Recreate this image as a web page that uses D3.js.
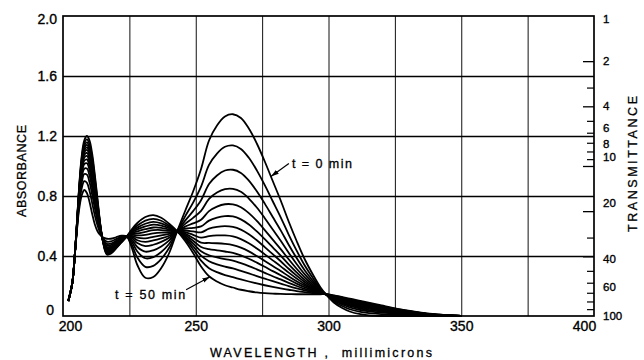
<!DOCTYPE html>
<html><head><meta charset="utf-8">
<script src="https://cdn.jsdelivr.net/npm/d3@7"></script>
<style>
html,body{margin:0;padding:0;background:#fff;}
svg{display:block;font-family:"Liberation Sans",Arial,sans-serif;}
text{fill:#000;}
</style></head><body>
<svg id="chart" width="644" height="360"></svg>
<script>
// ---------------- DATA ----------------
// wavelengths (millimicrons) at which the spectra were read
const wavelengths = [202,203.5,204.5,205.3,206,207,208,209,210,211,212,213,214,215,216.5,218,220,222,224,226,228,231,234,237,240,243,246,249,252,255,258,261,264,267,270,273,276,279,282,285,288,291,294,297,299,302,305,308,312,316,320,326,332,338,345,350];
// absorbance rows: one row per wavelength, one column per spectrum (t = 0 min ... t = 50 min)
const absorbanceRows = [
[.10,.10,.10,.10,.10,.10,.10,.10,.10,.10,.10,.10,.10,.10],
[.22,.22,.22,.22,.22,.22,.22,.22,.22,.22,.22,.22,.22,.22],
[.42,.42,.42,.42,.42,.42,.42,.42,.42,.42,.42,.42,.42,.42],
[.58,.591,.599,.606,.611,.615,.619,.622,.625,.628,.631,.633,.636,.64],
[.70,.725,.745,.76,.773,.783,.791,.799,.806,.812,.818,.825,.832,.84],
[.80,.847,.883,.912,.935,.953,.969,.983,.996,1.008,1.02,1.031,1.044,1.06],
[.84,.899,.946,.982,1.012,1.035,1.055,1.073,1.089,1.104,1.119,1.134,1.15,1.17],
[.82,.888,.942,.983,1.018,1.044,1.067,1.088,1.107,1.124,1.141,1.158,1.177,1.20],
[.76,.834,.891,.936,.973,1.002,1.027,1.049,1.07,1.088,1.106,1.125,1.145,1.17],
[.68,.752,.808,.852,.888,.916,.94,.962,.982,1.0,1.018,1.036,1.056,1.08],
[.61,.669,.716,.752,.782,.805,.825,.843,.859,.874,.889,.904,.92,.94],
[.565,.604,.634,.657,.677,.692,.705,.717,.727,.737,.747,.756,.767,.78],
[.54,.554,.566,.574,.582,.587,.592,.596,.60,.604,.608,.611,.615,.62],
[.525,.52,.517,.514,.512,.51,.509,.507,.506,.505,.504,.503,.501,.50],
[.515,.496,.481,.47,.46,.453,.447,.441,.436,.431,.426,.422,.416,.41],
[.515,.497,.483,.472,.463,.456,.45,.445,.44,.435,.431,.426,.421,.415],
[.525,.512,.501,.493,.486,.481,.476,.472,.468,.465,.462,.458,.455,.45],
[.535,.527,.521,.516,.512,.508,.506,.503,.501,.499,.497,.495,.493,.49],
[.53,.53,.53,.53,.53,.53,.53,.53,.53,.53,.53,.53,.53,.53],
[.45,.473,.492,.506,.518,.527,.534,.542,.548,.554,.56,.566,.572,.58],
[.34,.39,.43,.46,.486,.505,.522,.537,.551,.564,.577,.589,.603,.62],
[.255,.328,.385,.429,.466,.494,.518,.541,.561,.579,.597,.615,.636,.66],
[.26,.334,.392,.438,.475,.504,.528,.551,.572,.59,.609,.628,.648,.673],
[.32,.38,.427,.464,.494,.518,.538,.556,.573,.588,.603,.618,.635,.655],
[.42,.455,.482,.504,.521,.535,.547,.557,.567,.576,.585,.594,.603,.615],
[.565,.565,.565,.565,.565,.565,.565,.565,.565,.565,.565,.565,.565,.565],
[.70,.664,.636,.614,.596,.582,.57,.559,.549,.54,.531,.522,.512,.50],
[.83,.756,.699,.654,.617,.588,.564,.541,.52,.502,.484,.465,.445,.42],
[.98,.863,.772,.701,.642,.597,.558,.522,.489,.46,.431,.402,.369,.33],
[1.17,1.007,.88,.781,.699,.636,.582,.532,.487,.446,.405,.365,.319,.265],
[1.27,1.083,.937,.823,.729,.656,.594,.537,.485,.438,.391,.344,.292,.23],
[1.33,1.128,.97,.846,.745,.666,.599,.537,.481,.43,.379,.329,.273,.205],
[1.345,1.137,.975,.848,.744,.664,.594,.531,.473,.421,.369,.317,.259,.19],
[1.32,1.114,.954,.828,.725,.644,.576,.513,.456,.404,.352,.301,.244,.175],
[1.25,1.055,.903,.783,.686,.61,.545,.485,.431,.382,.333,.284,.23,.165],
[1.15,.971,.832,.723,.634,.564,.505,.45,.40,.356,.311,.266,.217,.157],
[1.03,.872,.749,.652,.573,.512,.459,.411,.367,.328,.288,.249,.205,.152],
[.90,.765,.66,.577,.509,.457,.412,.371,.333,.299,.265,.232,.194,.149],
[.77,.658,.571,.502,.446,.402,.365,.331,.30,.272,.244,.216,.184,.147],
[.63,.543,.475,.422,.378,.344,.315,.289,.265,.243,.221,.199,.175,.146],
[.50,.436,.386,.347,.315,.291,.269,.25,.232,.216,.20,.184,.166,.145],
[.38,.338,.305,.279,.258,.241,.227,.214,.203,.192,.181,.171,.159,.145],
[.28,.256,.237,.222,.21,.20,.192,.185,.178,.172,.166,.16,.153,.145],
[.19,.182,.176,.171,.167,.163,.161,.158,.156,.154,.152,.15,.148,.145],
[.145,.145,.145,.145,.145,.145,.145,.145,.145,.145,.145,.145,.145,.145],
[.09,.099,.105,.111,.115,.118,.121,.124,.126,.128,.131,.133,.135,.138],
[.055,.068,.078,.086,.093,.098,.102,.106,.11,.113,.117,.12,.124,.128],
[.03,.045,.057,.067,.074,.08,.085,.09,.094,.098,.102,.106,.11,.115],
[.012,.028,.04,.05,.058,.064,.069,.074,.078,.082,.086,.09,.095,.10],
[.003,.018,.029,.038,.046,.051,.056,.061,.065,.069,.072,.076,.08,.085],
[0,.013,.022,.030,.036,.041,.046,.049,.053,.056,.059,.062,.066,.07],
[0,.009,.015,.021,.025,.028,.031,.034,.036,.038,.041,.043,.045,.048],
[0,.005,.01,.013,.016,.018,.02,.021,.023,.024,.025,.027,.028,.03],
[0,.003,.005,.006,.008,.009,.01,.011,.011,.012,.013,.013,.014,.015],
[0,.001,.002,.002,.003,.003,.003,.004,.004,.004,.004,.004,.005,.005],
[0,0,0,0,0,0,0,0,0,0,0,0,0,0]
];
// axes
const absTicks = [0, 0.4, 0.8, 1.2, 1.6, 2.0];
const absTickLabels = ["0", "0.4", "0.8", "1.2", "1.6", "2.0"];
const wlGridValues = [225, 250, 275, 300, 325, 350, 375];
const wlTickValues = [200, 250, 300, 350, 400];
const transLabelTicks = [1, 2, 4, 6, 8, 10, 20, 40, 60, 100];
const transMajorTicks = [2, 4, 10, 20, 40];
const transMinorTicks = [3, 5, 6, 7, 8, 9, 30, 50, 60, 70, 80, 90];
// annotations: text, wavelength and absorbance of the curve point the arrow touches
const annotationText = ["t = 0 min", "t = 50 min"];
const annotationWl = [278.3, 255.4];
const annotationAbs = [0.93, 0.262];

// ---------------- DRAWING ----------------
const svg = d3.select("#chart");
const x = d3.scaleLinear().domain([200, 400]).range([63, 594]);
const y = d3.scaleLinear().domain([0, 2]).range([316, 16]);
const yT = d3.scaleLog().domain([1, 100]).range([16, 316]);

// vertical gridlines
svg.append("g")
  .attr("transform", `translate(0,${y(0)})`)
  .call(d3.axisBottom(x).tickValues(wlGridValues).tickSize(-(y(0) - y(2))).tickFormat(""))
  .call(g => g.select(".domain").remove())
  .call(g => g.selectAll("line").attr("stroke", "#111").attr("stroke-width", 1));

// horizontal gridlines
svg.append("g")
  .attr("transform", `translate(${x(200)},0)`)
  .call(d3.axisLeft(y).tickValues(absTicks.slice(1, -1)).tickSize(-(x(400) - x(200))).tickFormat(""))
  .call(g => g.select(".domain").remove())
  .call(g => g.selectAll("line").attr("stroke", "#000").attr("stroke-width", 1.5));

// frame
svg.append("rect")
  .attr("x", x(200)).attr("y", y(2))
  .attr("width", x(400) - x(200)).attr("height", y(0) - y(2))
  .attr("fill", "none").attr("stroke", "#000").attr("stroke-width", 1.7);

// left axis labels
const leftShift = {"0": [-3, -6], "2.0": [0, 3]};
svg.append("g")
  .attr("transform", `translate(${x(200)},0)`)
  .call(d3.axisLeft(y).tickValues(absTicks).tickSize(0).tickPadding(6)
        .tickFormat((d, i) => absTickLabels[i]))
  .call(g => g.select(".domain").remove())
  .call(g => g.selectAll("text")
    .attr("font-size", 14).attr("font-family", "Liberation Sans, Arial, sans-serif")
    .attr("stroke", "#000").attr("stroke-width", 0.35)
    .attr("dx", function () { const s = leftShift[this.textContent]; return s ? s[0] : 0; })
    .attr("transform", function () { const s = leftShift[this.textContent]; return s ? `translate(0,${s[1]})` : null; }));

// bottom axis labels
const bottomShift = {200: 7, 400: -10};
svg.append("g")
  .attr("transform", `translate(0,${y(0)})`)
  .call(d3.axisBottom(x).tickValues(wlTickValues).tickSize(0).tickPadding(5).tickFormat(d3.format("d")))
  .call(g => g.select(".domain").remove())
  .call(g => g.selectAll("text")
    .attr("font-size", 14).attr("font-family", "Liberation Sans, Arial, sans-serif")
    .attr("stroke", "#000").attr("stroke-width", 0.35)
    .attr("dx", d => bottomShift[d] || 0));

// right transmittance axis: inward ticks
svg.append("g")
  .attr("transform", `translate(${x(400)},0)`)
  .call(d3.axisRight(yT).tickValues(transMinorTicks).tickSize(-7).tickFormat(""))
  .call(g => g.select(".domain").remove())
  .call(g => g.selectAll("line").attr("stroke-width", 1.2));
svg.append("g")
  .attr("transform", `translate(${x(400)},0)`)
  .call(d3.axisRight(yT).tickValues(transMajorTicks).tickSize(-11).tickFormat(""))
  .call(g => g.select(".domain").remove())
  .call(g => g.selectAll("line").attr("stroke-width", 1.3));
const rightShift = {1: 3, 6: -5, 8: -8, 10: -9, 20: -8, 40: 3, 60: 4};
svg.append("g")
  .attr("transform", `translate(${x(400)},0)`)
  .call(d3.axisRight(yT).tickValues(transLabelTicks).tickSize(0).tickPadding(9).tickFormat(d3.format("d")))
  .call(g => g.select(".domain").remove())
  .call(g => g.selectAll("text")
    .attr("font-size", 11.5).attr("font-family", "Liberation Sans, Arial, sans-serif")
    .attr("stroke", "#000").attr("stroke-width", 0.35)
    .attr("transform", d => `translate(0,${rightShift[d] || 0})`));

// axis titles
svg.append("text")
  .attr("transform", "translate(26,171) rotate(-90)")
  .attr("text-anchor", "middle").attr("font-size", 12.5)
  .attr("stroke", "#000").attr("stroke-width", 0.3)
  .attr("textLength", 92).attr("lengthAdjust", "spacing")
  .text("ABSORBANCE");
svg.append("text")
  .attr("transform", "translate(637,164) rotate(-90)")
  .attr("text-anchor", "middle").attr("font-size", 12.5)
  .attr("stroke", "#000").attr("stroke-width", 0.3)
  .attr("textLength", 136).attr("lengthAdjust", "spacing")
  .text("TRANSMITTANCE");
svg.append("text")
  .attr("x", 210).attr("y", 356.5)
  .attr("font-size", 12.5).attr("stroke", "#000").attr("stroke-width", 0.3)
  .attr("textLength", 222).attr("lengthAdjust", "spacing")
  .attr("xml:space", "preserve")
  .text("WAVELENGTH ,  millimicrons");

// spectra
const nSpectra = absorbanceRows[0].length;
const spectra = d3.range(nSpectra).map(k => wavelengths.map((w, i) => [w, absorbanceRows[i][k]]));
const line = d3.line().x(d => x(d[0])).y(d => y(d[1])).curve(d3.curveCatmullRom.alpha(0.5));
svg.append("g").selectAll("path").data(spectra).join("path")
  .attr("d", line).attr("fill", "none").attr("stroke", "#000")
  .attr("stroke-width", 1.8).attr("stroke-linejoin", "round");

// annotations with arrows
svg.append("defs").append("marker")
  .attr("id", "arrow").attr("viewBox", "0 0 10 6").attr("refX", 10).attr("refY", 3)
  .attr("markerWidth", 8).attr("markerHeight", 5).attr("markerUnits", "userSpaceOnUse")
  .attr("orient", "auto")
  .append("path").attr("d", "M0,0 L10,3 L0,6 Z").attr("fill", "#000");
const tailOffset = [[18, -13], [-24, 13]];
const textOffset = [[3, 4.5], [-1, 9]];
const textLen = [60, 70];
annotationText.forEach((t, i) => {
  const tx = x(annotationWl[i]), ty = y(annotationAbs[i]);
  const sx = tx + tailOffset[i][0], sy = ty + tailOffset[i][1];
  svg.append("line").attr("x1", sx).attr("y1", sy).attr("x2", tx).attr("y2", ty)
    .attr("stroke", "#000").attr("stroke-width", 1.2).attr("marker-end", "url(#arrow)");
  svg.append("text")
    .attr("x", sx + textOffset[i][0]).attr("y", sy + textOffset[i][1])
    .attr("text-anchor", i === 0 ? "start" : "end")
    .attr("font-size", 12.5).attr("stroke", "#000").attr("stroke-width", 0.3)
    .attr("textLength", textLen[i]).attr("lengthAdjust", "spacing")
    .text(t);
});
</script>
</body></html>
